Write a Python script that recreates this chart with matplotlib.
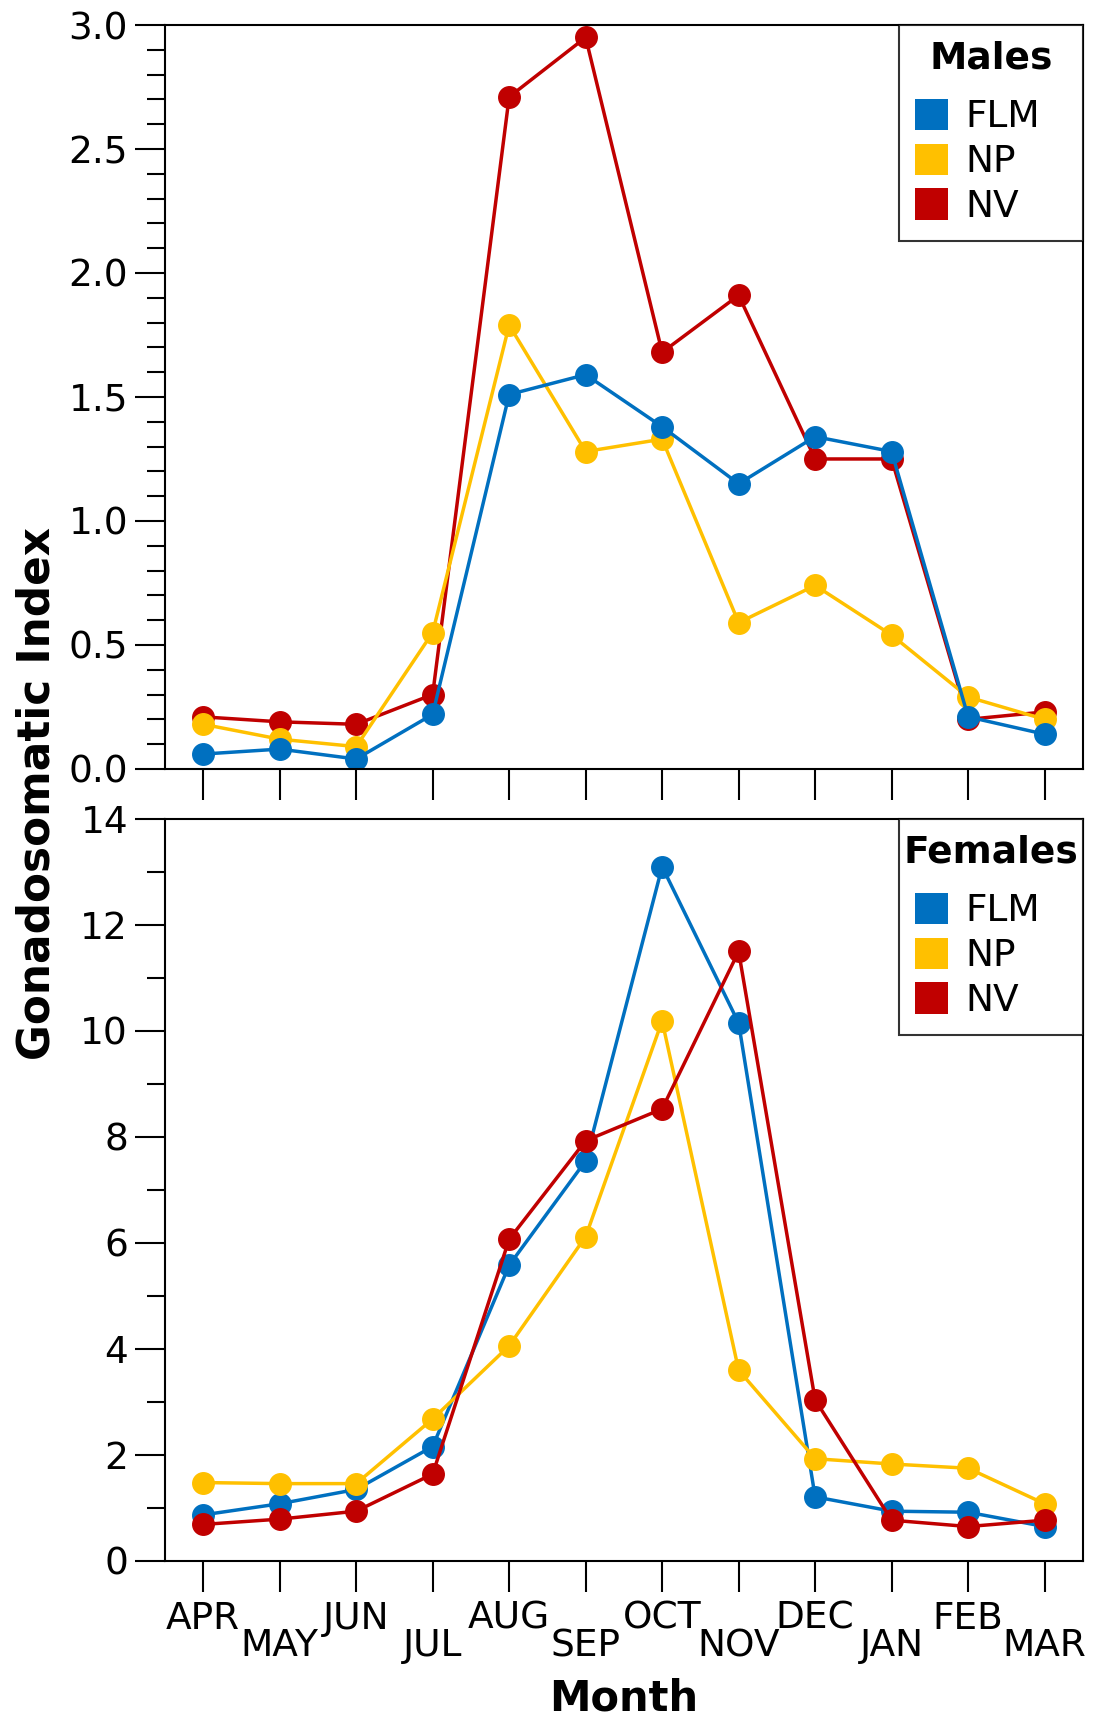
import matplotlib
matplotlib.use("Agg")
import matplotlib.pyplot as plt
from matplotlib.patches import Patch
import numpy as np

plt.rcParams['font.family'] = ['DejaVu Sans']

months = ['APR', 'MAY', 'JUN', 'JUL', 'AUG', 'SEP', 'OCT', 'NOV', 'DEC', 'JAN', 'FEB', 'MAR']

# males GSI
m_flm = [0.06, 0.08, 0.04, 0.22, 1.51, 1.59, 1.38, 1.15, 1.34, 1.28, 0.21, 0.14]
m_np = [0.18, 0.12, 0.09, 0.55, 1.79, 1.28, 1.33, 0.59, 0.74, 0.54, 0.29, 0.20]
m_nv = [0.21, 0.19, 0.18, 0.30, 2.71, 2.95, 1.68, 1.91, 1.25, 1.25, 0.20, 0.23]

# females GSI
f_flm = [0.87, 1.08, 1.35, 2.16, 5.58, 7.55, 13.10, 10.15, 1.21, 0.94, 0.92, 0.65]
f_np = [1.48, 1.46, 1.46, 2.68, 4.06, 6.12, 10.19, 3.60, 1.93, 1.83, 1.75, 1.08]
f_nv = [0.69, 0.79, 0.94, 1.64, 6.07, 7.93, 8.53, 11.50, 3.04, 0.77, 0.65, 0.77]

groups = ['FLM', 'NP', 'NV']
colors = {'FLM': '#0070C0', 'NP': '#FFC000', 'NV': '#C00000'}

fs = 27
fig = plt.figure(figsize=(10.96, 17.26), dpi=100)
ax1 = fig.add_axes([0.1505, 0.5545, 0.8375, 0.431])
ax2 = fig.add_axes([0.1505, 0.0956, 0.8375, 0.4299])

x = np.arange(len(months))


def style(ax, title, major, minor, ymax, labels):
    ax.set_xlim(-0.5, 11.5)
    ax.set_ylim(0, ymax)
    ax.set_yticks(np.arange(0, ymax + 1e-9, major))
    ax.set_yticks(np.arange(0, ymax + 1e-9, minor), minor=True)
    ax.set_xticks(x[::2])
    ax.set_xticks(x[1::2], minor=True)
    ax.tick_params(axis='y', which='major', direction='out', length=21.6, width=1.5,
                   labelsize=fs, pad=5)
    ax.tick_params(axis='y', which='minor', direction='out', length=13, width=1.5)
    ax.tick_params(axis='x', which='both', direction='out', length=22, width=1.5,
                   labelsize=fs)
    if labels:
        ax.set_xticklabels(months[::2])
        ax.set_xticklabels(months[1::2], minor=True)
        ax.tick_params(axis='x', which='major', pad=6.5)
        ax.tick_params(axis='x', which='minor', pad=26.5)
    else:
        ax.set_xticklabels([])
        ax.set_xticklabels([], minor=True)
    for s in ax.spines.values():
        s.set_linewidth(1.5)
    handles = [Patch(facecolor=colors[g], edgecolor='none', label=g) for g in groups]
    leg = ax.legend(handles=handles, title=title, loc='upper right', fontsize=fs,
                    title_fontproperties={'weight': 'bold', 'size': fs},
                    bbox_to_anchor=(0.7996, 0.0, 0.2004, 1.0), mode='expand',
                    frameon=True, fancybox=False, edgecolor='black',
                    borderaxespad=0, handlelength=0.9, handleheight=0.9,
                    handletextpad=0.45, labelspacing=0.22, borderpad=0.42)
    leg.get_frame().set_linewidth(1.5)
    # extra gap between title and entries
    leg._legend_box.sep = 16


lw = 2.5
ms = 15.5
for g, vals in [('NV', m_nv), ('NP', m_np), ('FLM', m_flm)]:
    ax1.plot(x, vals, color=colors[g], lw=lw, marker='o', ms=ms)
for g, vals in [('FLM', f_flm), ('NP', f_np), ('NV', f_nv)]:
    ax2.plot(x, vals, color=colors[g], lw=lw, marker='o', ms=ms)

style(ax1, 'Males', 0.5, 0.1, 3.0, False)
style(ax2, 'Females', 2, 1, 14, True)
ax1.yaxis.set_major_formatter(matplotlib.ticker.FormatStrFormatter('%.1f'))

fig.text(0.034, 0.54, 'Gonadosomatic Index', rotation=90, ha='center', va='center',
         fontsize=31.5, fontweight='bold')
fig.text(0.569, 0.016, 'Month', ha='center', va='center', fontsize=30, fontweight='bold')

fig.savefig('out.png', dpi=100)
